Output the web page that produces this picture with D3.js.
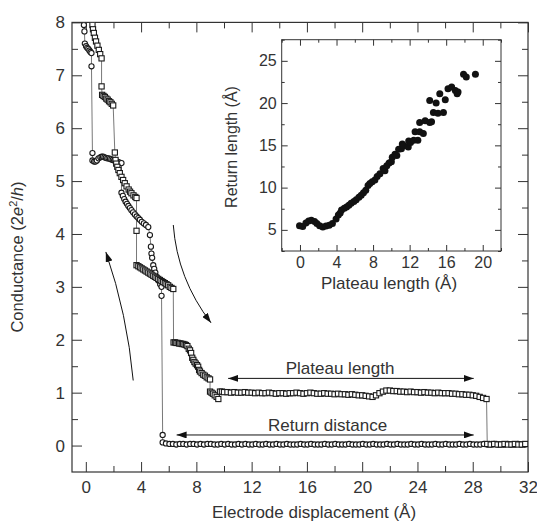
<!DOCTYPE html>
<html>
<head>
<meta charset="utf-8">
<script src="https://cdn.jsdelivr.net/npm/d3@7/dist/d3.min.js"></script>
<style>
  body { margin: 0; background: #fff; }
  text { font-family: "Liberation Sans", Arial, Helvetica, sans-serif; fill: #333; }
</style>
</head>
<body>
<svg id="chart" width="537" height="523"></svg>
<script>
// ---------------- data ----------------
// breaking trace (squares): [displacement, conductance]
var squareTrace = [
  [0.48, 8.5], [0.48, 7.95], [0.52, 7.87], [0.58, 7.8], [0.66, 7.71], [0.74, 7.64], [0.84, 7.56], [0.94, 7.48], [1.04, 7.4], [1.14, 7.32],
  [1.14, 6.79], [1.18, 6.63], [1.28, 6.61], [1.38, 6.59], [1.48, 6.56], [1.58, 6.54], [1.68, 6.51], [1.78, 6.49], [1.88, 6.46], [1.98, 6.43],
  [2.1, 5.54], [2.15, 5.4], [2.2, 5.33], [2.28, 5.27], [2.36, 5.21], [2.46, 5.15], [2.58, 5.08], [2.7, 5.02], [2.82, 4.96], [2.95, 4.9],
  [3.1, 4.84], [3.2, 4.8], [3.3, 4.77], [3.45, 4.73], [3.58, 4.7], [3.67, 4.68],
  [3.67, 4.06], [3.67, 3.41], [3.8, 3.39], [3.92, 3.37], [4.04, 3.35], [4.16, 3.33], [4.28, 3.31], [4.4, 3.29], [4.52, 3.27], [4.64, 3.25],
  [4.76, 3.23], [4.88, 3.21], [5.0, 3.19], [5.12, 3.17], [5.24, 3.15], [5.36, 3.13], [5.48, 3.11], [5.6, 3.09], [5.72, 3.07], [5.84, 3.05],
  [5.96, 3.03], [6.08, 3.0], [6.2, 2.98], [6.33, 2.96],
  [6.35, 1.95], [6.45, 1.95], [6.55, 1.94], [6.65, 1.94], [6.75, 1.93], [6.85, 1.93], [6.95, 1.92], [7.05, 1.92], [7.15, 1.91], [7.25, 1.9],
  [7.35, 1.88], [7.45, 1.83], [7.54, 1.8], [7.62, 1.75], [7.7, 1.66], [7.78, 1.62], [7.86, 1.58], [7.95, 1.55], [8.05, 1.52], [8.13, 1.49],
  [8.2, 1.43], [8.26, 1.4], [8.38, 1.37], [8.5, 1.34], [8.62, 1.32], [8.75, 1.29], [8.88, 1.27], [8.99, 1.25],
  [8.99, 1.02], [9.1, 1.0], [9.2, 0.98], [9.33, 0.95], [9.47, 0.92], [9.59, 0.88], [9.71, 1.02],
  [9.85, 1.02], [10.0, 1.01], [10.25, 1.01], [10.5, 1.0], [10.75, 1.01], [11.0, 1.0], [11.25, 1.0], [11.5, 1.01], [11.75, 1.0], [12.0, 1.0],
  [12.25, 0.99], [12.5, 1.0], [12.75, 0.99], [13.0, 0.99], [13.25, 1.0], [13.5, 0.99], [13.75, 0.98], [14.0, 0.99], [14.25, 0.99], [14.5, 0.98],
  [14.75, 0.99], [15.0, 0.99], [15.25, 1.0], [15.5, 0.99], [15.75, 0.98], [16.0, 0.99], [16.25, 1.0], [16.5, 0.99], [16.75, 0.98], [17.0, 0.98],
  [17.25, 0.99], [17.5, 0.98], [17.75, 0.98], [18.0, 0.97], [18.25, 0.98], [18.5, 0.97], [18.75, 0.97], [19.0, 0.96], [19.25, 0.97], [19.5, 0.96],
  [19.75, 0.95], [20.0, 0.95], [20.25, 0.94], [20.5, 0.93], [20.75, 0.92], [21.0, 0.95], [21.25, 0.99], [21.5, 1.02], [21.75, 1.04], [22.0, 1.04],
  [22.25, 1.03], [22.5, 1.03], [22.75, 1.02], [23.0, 1.02], [23.25, 1.01], [23.5, 1.02], [23.75, 1.01], [24.0, 1.01], [24.25, 1.0], [24.5, 1.01],
  [24.75, 1.0], [25.0, 1.0], [25.25, 0.99], [25.5, 1.0], [25.75, 0.99], [26.0, 0.99], [26.25, 0.99], [26.5, 0.98], [26.75, 0.98], [27.0, 0.97],
  [27.25, 0.97], [27.5, 0.96], [27.75, 0.96], [28.0, 0.95], [28.25, 0.94], [28.5, 0.92], [28.75, 0.9], [29.0, 0.88],
  [29.05, 0.03], [29.3, 0.02], [29.55, 0.03], [29.8, 0.02], [30.05, 0.02], [30.3, 0.03], [30.55, 0.02], [30.8, 0.02], [31.05, 0.03], [31.3, 0.02],
  [31.55, 0.02], [31.8, 0.03]
];

// second trace (circles)
var circleTrace = [
  [-0.14, 8.5], [-0.14, 7.95], [-0.1, 7.83], [-0.07, 7.6], [0.02, 7.55], [0.1, 7.52], [0.18, 7.5], [0.26, 7.47], [0.34, 7.44], [0.41, 7.42],
  [0.41, 7.17],
  [0.48, 5.53], [0.48, 5.39], [0.6, 5.37], [0.7, 5.37], [0.8, 5.39], [0.92, 5.43], [1.05, 5.45], [1.15, 5.46], [1.25, 5.46], [1.35, 5.45],
  [1.45, 5.44], [1.55, 5.43], [1.65, 5.43], [1.75, 5.42], [1.85, 5.41], [1.95, 5.4], [2.05, 5.39], [2.15, 5.38], [2.25, 5.37], [2.35, 5.36],
  [2.45, 5.35], [2.58, 5.34],
  [2.58, 4.78], [2.68, 4.72], [2.78, 4.66], [2.88, 4.61], [2.98, 4.57], [3.08, 4.53], [3.19, 4.49], [3.3, 4.45], [3.42, 4.41], [3.55, 4.37],
  [3.68, 4.33], [3.8, 4.3], [3.91, 4.27], [4.05, 4.23], [4.2, 4.2], [4.35, 4.17], [4.52, 4.13], [4.64, 3.98], [4.71, 3.76], [4.75, 3.63],
  [4.8, 3.55], [4.88, 3.41], [4.95, 3.34], [5.03, 3.27], [5.12, 3.19], [5.25, 3.12], [5.38, 3.05], [5.48, 3.0], [5.48, 2.83],
  [5.56, 0.2], [5.56, 0.06],
  [5.8, 0.04], [6.05, 0.03], [6.3, 0.03], [6.55, 0.02], [6.8, 0.03], [7.05, 0.03], [7.3, 0.02], [7.55, 0.03], [7.8, 0.03], [8.05, 0.02],
  [8.3, 0.03], [8.55, 0.02], [8.8, 0.03], [9.05, 0.03], [9.3, 0.02], [9.55, 0.02], [9.8, 0.03], [10.05, 0.02], [10.3, 0.03], [10.55, 0.02],
  [10.8, 0.02], [11.05, 0.03], [11.3, 0.02], [11.55, 0.03], [11.8, 0.02], [12.05, 0.02], [12.3, 0.03], [12.55, 0.02], [12.8, 0.02], [13.05, 0.03],
  [13.3, 0.02], [13.55, 0.02], [13.8, 0.03], [14.05, 0.02], [14.3, 0.02], [14.55, 0.03], [14.8, 0.02], [15.05, 0.02], [15.3, 0.02], [15.55, 0.03],
  [15.8, 0.02], [16.05, 0.02], [16.3, 0.03], [16.55, 0.02], [16.8, 0.02], [17.05, 0.02], [17.3, 0.03], [17.55, 0.02], [17.8, 0.02], [18.05, 0.03],
  [18.3, 0.02], [18.55, 0.02], [18.8, 0.02], [19.05, 0.03], [19.3, 0.02], [19.55, 0.02], [19.8, 0.02], [20.05, 0.03], [20.3, 0.02], [20.55, 0.02],
  [20.8, 0.03], [21.05, 0.02], [21.3, 0.02], [21.55, 0.02], [21.8, 0.03], [22.05, 0.02], [22.3, 0.02], [22.55, 0.03], [22.8, 0.02], [23.05, 0.02],
  [23.3, 0.02], [23.55, 0.03], [23.8, 0.02], [24.05, 0.02], [24.3, 0.03], [24.55, 0.02], [24.8, 0.02], [25.05, 0.02], [25.3, 0.03], [25.55, 0.02],
  [25.8, 0.02], [26.05, 0.03], [26.3, 0.02], [26.55, 0.02], [26.8, 0.02], [27.05, 0.03], [27.3, 0.02], [27.55, 0.02], [27.8, 0.03], [28.05, 0.02],
  [28.3, 0.02], [28.55, 0.02], [28.8, 0.03], [29.05, 0.02], [29.3, 0.02], [29.55, 0.03], [29.8, 0.02], [30.05, 0.02], [30.3, 0.02], [30.55, 0.03],
  [30.8, 0.02], [31.05, 0.02], [31.3, 0.03], [31.55, 0.02], [31.8, 0.02]
];

// inset: [plateau length, return length]
var insetPoints = [
  [-0.05, 5.5], [0.3, 5.4], [0.65, 5.8], [0.95, 6.05], [1.25, 6.15], [1.6, 6.0], [1.85, 5.75], [2.15, 5.5], [2.5, 5.35], [2.85, 5.45],
  [3.2, 5.55], [3.55, 5.75], [3.95, 6.3], [4.2, 6.75], [4.4, 7.0], [4.55, 7.35], [4.85, 7.55], [5.1, 7.7], [5.35, 7.9], [5.6, 8.15],
  [5.9, 8.35], [6.15, 8.55], [6.45, 8.85], [6.7, 9.1], [6.95, 9.4], [7.2, 9.7], [7.45, 10.25], [7.65, 10.5], [7.9, 10.7], [8.2, 10.9],
  [8.45, 11.3], [8.75, 11.65], [9.1, 12.25], [9.3, 12.0], [9.5, 12.6], [9.75, 12.9], [10.0, 13.05], [10.1, 13.6], [10.4, 13.95], [10.6, 13.8],
  [10.8, 14.55], [11.1, 14.6], [11.2, 15.15], [11.35, 14.95], [11.85, 14.8], [11.9, 15.5], [12.1, 15.35], [12.45, 15.6], [12.6, 16.6], [12.9, 15.6],
  [13.1, 16.6], [13.1, 17.7], [13.5, 16.4], [13.7, 17.9], [14.2, 17.7], [14.4, 17.8], [14.2, 20.3], [14.6, 18.9], [14.9, 20.0], [15.1, 18.8],
  [15.3, 21.1], [15.7, 18.9], [15.9, 20.4], [16.2, 21.7], [16.6, 21.9], [17.0, 21.5], [17.2, 21.1], [17.3, 21.3], [17.9, 23.4], [18.2, 23.1],
  [19.2, 23.4]
];

// ticks
var xMajor = [0, 4, 8, 12, 16, 20, 24, 28, 32];
var xMinor = [2, 6, 10, 14, 18, 22, 26, 30];
var yMajor = [0, 1, 2, 3, 4, 5, 6, 7, 8];
var yMinor = [0.5, 1.5, 2.5, 3.5, 4.5, 5.5, 6.5, 7.5];
var insetXMajor = [0, 4, 8, 12, 16, 20];
var insetXMinor = [-2, 2, 6, 10, 14, 18, 22];
var insetYMajor = [5, 10, 15, 20, 25];
var insetYMinor = [2.5, 7.5, 12.5, 17.5, 22.5, 27.5];

// annotations (data units)
var doubleArrows = [
  { label: "Plateau length", x1: 10.3, x2: 28.07, y: 1.27, tx: 18.4, ty: 1.36 },
  { label: "Return distance", x1: 6.57, x2: 28.07, y: 0.2, tx: 17.5, ty: 0.28 }
];
var curvedArrows = [
  { from: [3.43, 1.23], ctrl: [3.0, 2.48], to: [1.45, 3.66] },
  { from: [6.33, 4.17], ctrl: [6.62, 3.15], to: [9.06, 2.32] }
];

// ---------------- chart ----------------
var svg = d3.select("#chart");

var x = d3.scaleLinear().domain([-1, 32]).range([72, 528]);
var y = d3.scaleLinear().domain([-0.5, 8]).range([472, 22.4]);

var defs = svg.append("defs");
defs.append("clipPath").attr("id", "plotclip")
  .append("rect")
  .attr("x", x.range()[0]).attr("y", y.range()[1])
  .attr("width", x.range()[1] - x.range()[0])
  .attr("height", y.range()[0] - y.range()[1]);

defs.append("marker")
  .attr("id", "head")
  .attr("viewBox", "0 0 10 7")
  .attr("refX", 10).attr("refY", 3.5)
  .attr("markerWidth", 10).attr("markerHeight", 7)
  .attr("markerUnits", "userSpaceOnUse")
  .attr("orient", "auto-start-reverse")
  .append("path").attr("d", "M0,0 L10,3.5 L0,7 Z").attr("fill", "#111");

// axes
function styleAxis(g) {
  g.select(".domain").remove();
  g.selectAll(".tick line").attr("stroke", "#333").attr("stroke-width", 1);
}

svg.append("g")
  .attr("transform", "translate(0," + y.range()[0] + ")")
  .call(d3.axisBottom(x).tickValues(xMajor).tickSize(-10).tickPadding(9))
  .call(styleAxis)
  .selectAll("text").attr("font-size", 17);
svg.append("g")
  .attr("transform", "translate(0," + y.range()[0] + ")")
  .call(d3.axisBottom(x).tickValues(xMinor).tickSize(-6).tickFormat(""))
  .call(styleAxis);
svg.append("g")
  .attr("transform", "translate(0," + y.range()[1] + ")")
  .call(d3.axisTop(x).tickValues(xMajor).tickSize(-10).tickFormat(""))
  .call(styleAxis);
svg.append("g")
  .attr("transform", "translate(0," + y.range()[1] + ")")
  .call(d3.axisTop(x).tickValues(xMinor).tickSize(-6).tickFormat(""))
  .call(styleAxis);

svg.append("g")
  .attr("transform", "translate(" + x.range()[0] + ",0)")
  .call(d3.axisLeft(y).tickValues(yMajor).tickSize(-10).tickPadding(7))
  .call(styleAxis)
  .selectAll("text").attr("font-size", 17);
svg.append("g")
  .attr("transform", "translate(" + x.range()[0] + ",0)")
  .call(d3.axisLeft(y).tickValues(yMinor).tickSize(-6).tickFormat(""))
  .call(styleAxis);
svg.append("g")
  .attr("transform", "translate(" + x.range()[1] + ",0)")
  .call(d3.axisRight(y).tickValues(yMajor).tickSize(-10).tickFormat(""))
  .call(styleAxis);
svg.append("g")
  .attr("transform", "translate(" + x.range()[1] + ",0)")
  .call(d3.axisRight(y).tickValues(yMinor).tickSize(-6).tickFormat(""))
  .call(styleAxis);

svg.append("rect")
  .attr("x", x.range()[0]).attr("y", y.range()[1])
  .attr("width", x.range()[1] - x.range()[0])
  .attr("height", y.range()[0] - y.range()[1])
  .attr("fill", "none").attr("stroke", "#333").attr("stroke-width", 1.2);

// axis titles
svg.append("text")
  .attr("x", 314).attr("y", 518)
  .attr("text-anchor", "middle").attr("font-size", 17)
  .text("Electrode displacement (Å)");

var yt = svg.append("text")
  .attr("transform", "translate(23,257) rotate(-90)")
  .attr("text-anchor", "middle").attr("font-size", 16.5);
yt.append("tspan").text("Conductance (2");
yt.append("tspan").text("e").attr("font-style", "italic");
yt.append("tspan").text("2").attr("font-size", 11).attr("dy", -6);
yt.append("tspan").text("/").attr("dy", 6);
yt.append("tspan").text("h").attr("font-style", "italic");
yt.append("tspan").text(")");

// traces
var plot = svg.append("g").attr("clip-path", "url(#plotclip)");
var line = d3.line().x(function (d) { return x(d[0]); }).y(function (d) { return y(d[1]); });

plot.append("path").datum(circleTrace)
  .attr("d", line).attr("fill", "none").attr("stroke", "#555").attr("stroke-width", 0.8);
plot.append("path").datum(squareTrace)
  .attr("d", line).attr("fill", "none").attr("stroke", "#555").attr("stroke-width", 0.8);

plot.append("g").selectAll("circle")
  .data(circleTrace).enter().append("circle")
  .attr("cx", function (d) { return x(d[0]); })
  .attr("cy", function (d) { return y(d[1]); })
  .attr("r", 2.6)
  .attr("fill", "#fff").attr("stroke", "#1a1a1a").attr("stroke-width", 1.1);

plot.append("g").selectAll("rect")
  .data(squareTrace).enter().append("rect")
  .attr("x", function (d) { return x(d[0]) - 2.6; })
  .attr("y", function (d) { return y(d[1]) - 2.6; })
  .attr("width", 5.2).attr("height", 5.2)
  .attr("fill", "#fff").attr("stroke", "#1a1a1a").attr("stroke-width", 1.1);

// annotations
doubleArrows.forEach(function (a) {
  svg.append("line")
    .attr("x1", x(a.x1)).attr("x2", x(a.x2))
    .attr("y1", y(a.y)).attr("y2", y(a.y))
    .attr("stroke", "#111").attr("stroke-width", 1)
    .attr("marker-start", "url(#head)").attr("marker-end", "url(#head)");
  svg.append("text")
    .attr("x", x(a.tx)).attr("y", y(a.ty))
    .attr("text-anchor", "middle").attr("font-size", 17)
    .text(a.label);
});

curvedArrows.forEach(function (a) {
  var p = d3.path();
  p.moveTo(x(a.from[0]), y(a.from[1]));
  p.quadraticCurveTo(x(a.ctrl[0]), y(a.ctrl[1]), x(a.to[0]), y(a.to[1]));
  svg.append("path")
    .attr("d", p.toString())
    .attr("fill", "none").attr("stroke", "#111").attr("stroke-width", 1)
    .attr("marker-end", "url(#head)");
});

// ---------------- inset ----------------
var ix = d3.scaleLinear().domain([-2, 22]).range([281.7, 501]);
var iy = d3.scaleLinear().domain([2.5, 27.5]).range([251, 39.7]);

var inset = svg.append("g");
inset.append("rect")
  .attr("x", ix.range()[0]).attr("y", iy.range()[1])
  .attr("width", ix.range()[1] - ix.range()[0])
  .attr("height", iy.range()[0] - iy.range()[1])
  .attr("fill", "#fff");

inset.append("g")
  .attr("transform", "translate(0," + iy.range()[0] + ")")
  .call(d3.axisBottom(ix).tickValues(insetXMajor).tickSize(-6).tickPadding(6))
  .call(styleAxis)
  .selectAll("text").attr("font-size", 16);
inset.append("g")
  .attr("transform", "translate(0," + iy.range()[0] + ")")
  .call(d3.axisBottom(ix).tickValues(insetXMinor).tickSize(-3).tickFormat(""))
  .call(styleAxis);
inset.append("g")
  .attr("transform", "translate(0," + iy.range()[1] + ")")
  .call(d3.axisTop(ix).tickValues(insetXMajor).tickSize(-6).tickFormat(""))
  .call(styleAxis);
inset.append("g")
  .attr("transform", "translate(0," + iy.range()[1] + ")")
  .call(d3.axisTop(ix).tickValues(insetXMinor).tickSize(-3).tickFormat(""))
  .call(styleAxis);
inset.append("g")
  .attr("transform", "translate(" + ix.range()[0] + ",0)")
  .call(d3.axisLeft(iy).tickValues(insetYMajor).tickSize(-6).tickPadding(5))
  .call(styleAxis)
  .selectAll("text").attr("font-size", 16);
inset.append("g")
  .attr("transform", "translate(" + ix.range()[0] + ",0)")
  .call(d3.axisLeft(iy).tickValues(insetYMinor).tickSize(-3).tickFormat(""))
  .call(styleAxis);
inset.append("g")
  .attr("transform", "translate(" + ix.range()[1] + ",0)")
  .call(d3.axisRight(iy).tickValues(insetYMajor).tickSize(-6).tickFormat(""))
  .call(styleAxis);
inset.append("g")
  .attr("transform", "translate(" + ix.range()[1] + ",0)")
  .call(d3.axisRight(iy).tickValues(insetYMinor).tickSize(-3).tickFormat(""))
  .call(styleAxis);

inset.append("rect")
  .attr("x", ix.range()[0]).attr("y", iy.range()[1])
  .attr("width", ix.range()[1] - ix.range()[0])
  .attr("height", iy.range()[0] - iy.range()[1])
  .attr("fill", "none").attr("stroke", "#333").attr("stroke-width", 1);

inset.append("g").selectAll("circle")
  .data(insetPoints).enter().append("circle")
  .attr("cx", function (d) { return ix(d[0]); })
  .attr("cy", function (d) { return iy(d[1]); })
  .attr("r", 3.5)
  .attr("fill", "#111");

inset.append("text")
  .attr("x", 389).attr("y", 289)
  .attr("text-anchor", "middle").attr("font-size", 17)
  .text("Plateau length (Å)");
inset.append("text")
  .attr("transform", "translate(237,147) rotate(-90)")
  .attr("text-anchor", "middle").attr("font-size", 16)
  .text("Return length (Å)");
</script>
</body>
</html>
